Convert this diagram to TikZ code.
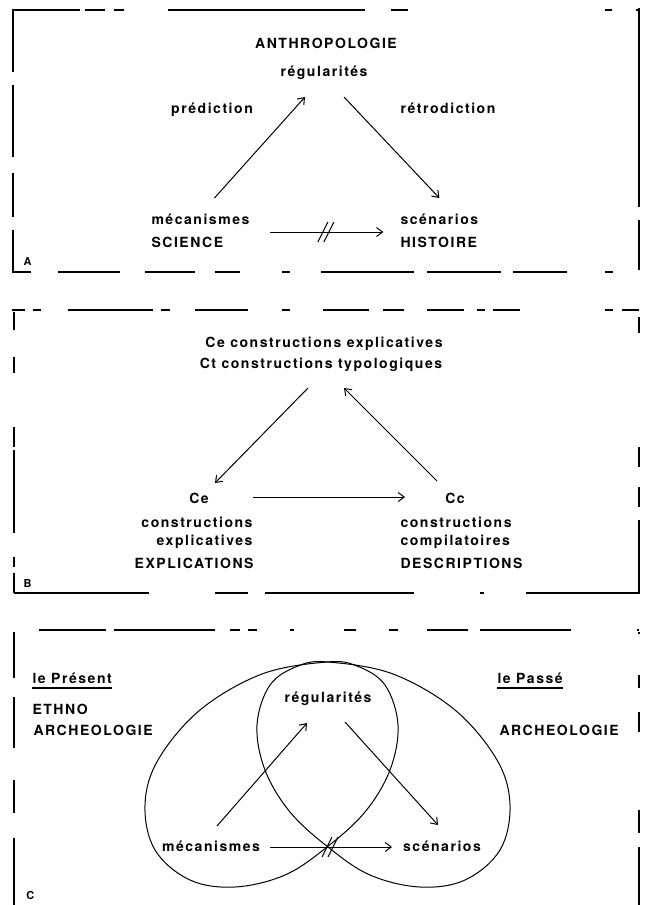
\documentclass[tikz,border=0pt]{standalone}
\usepackage{fontspec}
\setmainfont{TeX Gyre Heros}[LetterSpace=11]
\usetikzlibrary{arrows.meta}

\begin{document}
\begin{tikzpicture}[x=1pt, y=-1pt, >={Straight Barb[length=6pt,width=9pt]}, line width=1pt]
\tikzstyle{every node}=[inner sep=0pt, font=\bfseries\fontsize{14}{18}\selectfont]
\tikzstyle{frame}=[line width=1.2pt]
\tikzstyle{tag}=[anchor=base west, font=\bfseries\fontsize{11}{12}\selectfont]
\useasboundingbox (0,0) rectangle (646,905);

% panel A
\draw[frame, dash pattern=on 68pt off 5pt on 20pt off 9pt on 10pt off 44pt on 197pt off 26pt on 17pt off 197pt on 7pt off 24pt on 3pt] (12,10) -- (639,10);
\draw[frame, dash pattern=on 62pt off 13pt on 72pt off 16pt on 44pt off 13pt on 43pt] (13,10) -- (13,273);
\draw[frame, dash pattern=on 199pt off 13pt on 50pt] (639,8) -- (639,272);
\draw[frame, dash pattern=on 19pt off 27pt on 62pt off 25pt on 50pt off 20pt on 25pt off 42pt on 8pt off 31pt on 93pt off 13pt on 74pt off 12pt on 54pt off 38pt on 8pt off 26pt on 1pt] (12,272) -- (639,272);
\node[anchor=base] (T1) at (326,48) {ANTHROPOLOGIE};
\node[anchor=base] (R1) at (324,76) {régularités};
\node[anchor=base] (P1) at (212,113) {prédiction};
\node[anchor=base] (Q1) at (448,113) {rétrodiction};
\node[anchor=base west] (M1) at (151,224) {mécanismes};
\node[anchor=base west] (K1) at (151,247) {SCIENCE};
\node[anchor=base west] (S1) at (400,224) {scénarios};
\node[anchor=base west] (H1) at (400,247) {HISTOIRE};
\node[tag] (L1) at (23,265) {A};
\path[->]
([shift={(14,-26)}]M1.base) edge ([shift={(-19,21)}]R1.base)
([shift={(20,21)}]R1.base) edge ([shift={(0,-26)}]S1.base)
([shift={(70,8)}]M1.base) edge node[pos=.5] (X1) {} ([shift={(-56,8)}]S1.base);
\draw (X1) ++(-9,10) -- ++(10,-20) (X1) ++(-3,10) -- ++(10,-20);

% panel B
\draw[frame, dash pattern=on 13pt off 8pt on 8pt off 27pt on 85pt off 8pt on 9pt off 25pt on 53pt off 34pt on 8pt off 33pt on 46pt off 14pt on 21pt off 23pt on 37pt] (12,310) -- (639,310);
\draw[frame, dash pattern=on 18pt off 27pt on 16pt off 54pt on 20pt off 3pt on 83pt off 24pt on 10pt off 6pt on 20pt] (14,312) -- (14,593);
\draw[frame, dash pattern=on 16pt off 114pt on 20pt off 20pt on 20pt off 13pt on 73pt] (639,317) -- (639,593);
\draw[frame, dash pattern=on 135pt off 66pt on 33pt off 17pt on 149pt off 66pt on 4pt off 42pt on 114pt] (14,593) -- (640,593);
\node[anchor=base] (T2) at (324,347) {Ce constructions explicatives};
\node[anchor=base] (U2) at (321,368) {Ct constructions typologiques};
\node[anchor=base] (E2) at (199,503) {Ce};
\node[anchor=base] (C2) at (455,503) {Cc};
\node[anchor=base east] (E2a) at (253,527) {constructions};
\node[anchor=base east] (E2b) at (253,545) {explicatives};
\node[anchor=base east] (E2c) at (254,568) {EXPLICATIONS};
\node[anchor=base west] (C2a) at (400,527) {constructions};
\node[anchor=base west] (C2b) at (400,545) {compilatoires};
\node[anchor=base west] (C2c) at (400,568) {DESCRIPTIONS};
\node[tag] (L2) at (23,587) {B};
\path[->]
([shift={(-13,20)}]U2.base) edge ([shift={(16,-20)}]E2.base)
([shift={(-18,-22)}]C2.base) edge ([shift={(23,20)}]U2.base)
([shift={(54,-6)}]E2.base) edge ([shift={(-50,-6)}]C2.base);

% panel C
\draw[frame, dash pattern=on 67pt off 8pt on 101pt off 15pt on 10pt off 8pt on 9pt off 33pt on 4pt off 50pt on 12pt off 33pt on 9pt off 29pt on 41pt off 12pt on 91pt off 66pt on 2pt] (39,630) -- (639,630);
\draw[frame, dash pattern=on 46pt off 19pt on 51pt off 32pt on 33pt off 25pt on 67pt] (14,632) -- (14,905);
\draw[frame, dash pattern=on 2pt off 41pt on 13pt off 24pt on 20pt off 78pt on 23pt off 14pt on 58pt] (639,632) -- (639,905);
\node[anchor=base west] (P3) at (32,683) {le Présent};
\node[anchor=base west] (E3) at (32,714) {ETHNO};
\node[anchor=base west] (A3) at (33,735) {ARCHEOLOGIE};
\node[anchor=base west] (Q3) at (497,683) {le Passé};
\node[anchor=base west] (B3) at (499,735) {ARCHEOLOGIE};
\node[anchor=base] (R3) at (328,702) {régularités};
\node[anchor=base] (M3) at (211,851) {mécanismes};
\node[anchor=base] (S3) at (442,851) {scénarios};
\node[tag] (L3) at (26,899) {C};
\draw[line width=1.3pt] ([shift={(0,5)}]P3.base west) -- ([shift={(0,5)}]P3.base east);
\draw[line width=1.3pt] ([shift={(0,5)}]Q3.base west) -- ([shift={(0,5)}]Q3.base east);
\foreach \s/\o in {1/0,-1/655}
  \draw[xshift=\o, xscale=\s] plot[smooth cycle, tension=0.6] coordinates {(327,662) (262,674) (200,710) (158,760) (145,805) (155,850) (190,880) (235,887) (285,875) (327,847) (365,812) (390,770) (398,725) (385,685) (357,666)};
\path[->]
([shift={(6,-25)}]M3.base) edge ([shift={(-21,21)}]R3.base)
([shift={(17,20)}]R3.base) edge ([shift={(-4,-26)}]S3.base)
([shift={(59,-4)}]M3.base) edge node[pos=.5] (X3) {} ([shift={(-50,-4)}]S3.base);
\draw (X3) ++(-9,10) -- ++(10,-20) (X3) ++(-3,10) -- ++(10,-20);
\end{tikzpicture}
\end{document}
